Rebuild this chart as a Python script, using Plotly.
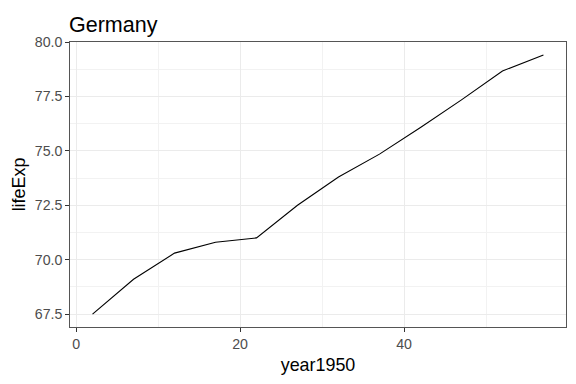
import plotly.graph_objects as go

year1950 = [2, 7, 12, 17, 22, 27, 32, 37, 42, 47, 52, 57]
life_exp = [67.5, 69.1, 70.3, 70.8, 71.0, 72.5, 73.8, 74.847, 76.07, 77.34, 78.67, 79.406]
x_ticks = [0, 20, 40]
y_ticks = [67.5, 70.0, 72.5, 75.0, 77.5, 80.0]

fig = go.Figure(go.Scatter(x=year1950, y=life_exp, mode="lines",
                           line=dict(color="black", width=1.1), showlegend=False))

# page body adds an 8px offset; shrink the figure so the picture fills 576x384
W, H = 568, 376
font_family = "Liberation Sans, Arial, sans-serif"
fig.update_layout(
    width=W, height=H,
    margin=dict(l=61.5, r=10, t=33.7, b=57, autoexpand=False),
    paper_bgcolor="white", plot_bgcolor="white",
    font=dict(family=font_family, color="black"),
    title=dict(text="Germany", x=61/W, xanchor="left", y=1 - 24/H, yanchor="bottom",
               automargin=False,
               font=dict(size=21.5, color="black", family=font_family)),
)
fig.update_xaxes(
    range=[-0.75, 59.75], tickvals=x_ticks, ticktext=[str(v) for v in x_ticks],
    showgrid=True, gridcolor="#EBEBEB", gridwidth=1.2,
    minor=dict(tickvals=[10, 30, 50], showgrid=True, gridcolor="#F2F2F2", gridwidth=0.7, ticks=""),
    ticks="outside", ticklen=3.7, tickwidth=1, tickcolor="#333333",
    tickfont=dict(size=14.2, color="#4D4D4D"), automargin=False,
    showline=True, linecolor="#555555", linewidth=1, mirror=True, zeroline=False,
    title=dict(text="year1950", font=dict(size=17.9, color="black"), standoff=7),
)
fig.update_yaxes(
    range=[66.905, 80.0], tickvals=y_ticks, ticktext=[f"{v:.1f}" for v in y_ticks],
    showgrid=True, gridcolor="#EBEBEB", gridwidth=1.2,
    minor=dict(tickvals=[68.75, 71.25, 73.75, 76.25, 78.75], showgrid=True,
               gridcolor="#F2F2F2", gridwidth=0.7, ticks=""),
    ticks="outside", ticklen=3.7, tickwidth=1, tickcolor="#333333",
    tickfont=dict(size=14.2, color="#4D4D4D"), automargin=False,
    showline=True, linecolor="#555555", linewidth=1, mirror=True, zeroline=False,
    title=dict(text="lifeExp", font=dict(size=17.9, color="black"), standoff=4),
)

fig.write_html("out.html")
